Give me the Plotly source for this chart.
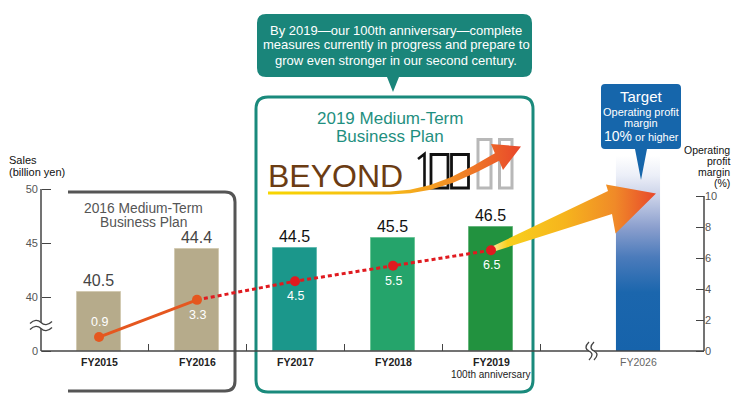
import math
import plotly.graph_objects as go

# ---------------- data ----------------
years = ["FY2015", "FY2016", "FY2017", "FY2018", "FY2019"]
sales = [40.5, 44.4, 44.5, 45.5, 46.5]            # billion yen
margin = [0.9, 3.3, 4.5, 5.5, 6.5]               # operating profit margin, %
margin_label_side = [1, -1, -1, -1, -1]          # 1 = above point, -1 = below
target_year = "FY2026"
target_bar_top = 12.6                            # faded target bar (% axis)
sales_tickvals = [35, 40, 45, 50]
sales_ticktext = ["0", "40", "45", "50"]
margin_tickvals = [0, 2, 4, 6, 8, 10]

# ---------------- styles ----------------
bar_colors = ["#b6ab8b", "#b6ab8b", "#1b978b", "#25a46b", "#22923f"]
bar_edges = ["#d2cab2", "#d2cab2", "#63bbb1", "#6cc597", "#67b67d"]
bar_label_colors = ["#444444", "#444444", "#111111", "#111111", "#111111"]
marker_colors = ["#e5571f", "#e5571f", "#e01a1f", "#e01a1f", "#e01a1f"]
FONT = "Liberation Sans, Arial, sans-serif"
AX = "#444444"

# ---------------- geometry ----------------
W, H = 735, 399
X0PX, XSTEP = 99.0, 98.0
BASEPX = 351.0
SALES_BASE = 35.0
SALES_PXU = 10.8
MARGIN_PXU = 15.5
LEFT_AX_PX, RIGHT_AX_PX = 41.0, 704.0

xr = [(0 - X0PX) / XSTEP, (W - X0PX) / XSTEP]
yr = [SALES_BASE - (H - BASEPX) / SALES_PXU, SALES_BASE + BASEPX / SALES_PXU]
y2r = [-(H - BASEPX) / MARGIN_PXU, BASEPX / MARGIN_PXU]


def dx(px):
    return (px - X0PX) / XSTEP


def dy2(py):
    return (BASEPX - py) / MARGIN_PXU


def P(x, y):
    return f"{x / W:.5f},{1 - y / H:.5f}"


def poly_path(pts, close=True):
    s = "M " + " L ".join(P(x, y) for x, y in pts)
    return s + (" Z" if close else "")


def rr_path(x0, y0, x1, y1, r, pointer=None):
    s = f"M {P(x0 + r, y0)} L {P(x1 - r, y0)} Q {P(x1, y0)} {P(x1, y0 + r)} "
    s += f"L {P(x1, y1 - r)} Q {P(x1, y1)} {P(x1 - r, y1)} "
    if pointer:
        px, hw, ty = pointer
        s += f"L {P(px + hw, y1)} L {P(px, ty)} L {P(px - hw, y1)} "
    s += f"L {P(x0 + r, y1)} Q {P(x0, y1)} {P(x0, y1 - r)} L {P(x0, y0 + r)} Q {P(x0, y0)} {P(x0 + r, y0)} Z"
    return s


fig = go.Figure()
xs = list(range(len(years)))
target_x = len(years) + 0.5
bar_w = 0.45

# sales bars
fig.add_trace(go.Bar(
    x=xs, y=[s - SALES_BASE for s in sales], base=SALES_BASE, width=bar_w,
    marker=dict(color=bar_colors, line=dict(color=bar_edges, width=1)),
    text=[f"{s:.1f}" for s in sales], textposition="outside", constraintext="none",
    textfont=dict(size=16, color=bar_label_colors, family=FONT),
    cliponaxis=False, hoverinfo="skip", yaxis="y"))

# target bar (gradient)
fig.add_trace(go.Scatter(
    x=[target_x - bar_w / 2, target_x + bar_w / 2, target_x + bar_w / 2, target_x - bar_w / 2, target_x - bar_w / 2],
    y=[0, 0, target_bar_top, target_bar_top, 0], mode="lines", line=dict(width=0),
    fill="toself", fillgradient=dict(type="vertical", colorscale=[
        [0, "#1663ab"], [0.3, "#1b66ad"], [0.48, "#4b7bbb"], [0.63, "#8a9ecd"],
        [0.78, "#c6cee6"], [0.9, "#eceff8"], [1, "#ffffff"]]),
    hoverinfo="skip", yaxis="y2"))

# big arrow towards the target
arrow_px = [(491, 247), (608, 191), (606, 184.5), (656, 193.5), (615.5, 233.5), (612, 214), (491, 252.5)]
fig.add_trace(go.Scatter(
    x=[dx(p[0]) for p in arrow_px] + [dx(arrow_px[0][0])],
    y=[dy2(p[1]) for p in arrow_px] + [dy2(arrow_px[0][1])],
    mode="lines", line=dict(width=0), fill="toself",
    fillgradient=dict(type="horizontal", colorscale=[
        [0, "#fbe9a6"], [0.1, "#f8d01c"], [0.45, "#f6b41d"], [0.75, "#f08a28"], [1, "#e8482c"]]),
    hoverinfo="skip", yaxis="y2"))

# logo arrow (BEYOND 100)
center = [(268, 193), (390, 193), (410, 191.5), (430, 187.5), (452, 180), (475, 169), (497, 157)]
half = [1.5, 1.5, 1.8, 2.3, 2.9, 3.6, 4.4]
upper, lower = [], []
for i, (cx, cy) in enumerate(center):
    a = center[max(i - 1, 0)]
    b = center[min(i + 1, len(center) - 1)]
    tx, ty = b[0] - a[0], b[1] - a[1]
    L = math.hypot(tx, ty)
    nx, ny = -ty / L, tx / L
    upper.append((cx - nx * half[i], cy - ny * half[i]))
    lower.append((cx + nx * half[i], cy + ny * half[i]))
head = [(503, 170), (521, 146.5), (491, 144)]
logo_pts = lower + head + upper[::-1]
fig.add_trace(go.Scatter(
    x=[dx(p[0]) for p in logo_pts] + [dx(logo_pts[0][0])],
    y=[dy2(p[1]) for p in logo_pts] + [dy2(logo_pts[0][1])],
    mode="lines", line=dict(width=0), fill="toself",
    fillgradient=dict(type="horizontal", colorscale=[
        [0, "#f7d600"], [0.5, "#f6b81a"], [0.72, "#f28f25"], [1, "#e8462b"]]),
    hoverinfo="skip", yaxis="y2"))

# margin line: solid (results) and dotted (plan)
fig.add_trace(go.Scatter(x=xs[:2], y=margin[:2], mode="lines",
                         line=dict(color="#e5571f", width=3), hoverinfo="skip", yaxis="y2"))
fig.add_trace(go.Scatter(x=xs[1:], y=margin[1:], mode="lines",
                         line=dict(color="#e01a1f", width=3, dash="4px,3px"), hoverinfo="skip", yaxis="y2"))
fig.add_trace(go.Scatter(x=xs, y=margin, mode="markers",
                         marker=dict(color=marker_colors, size=10), hoverinfo="skip", yaxis="y2"))

shapes = []
# boxes (below traces)
shapes.append(dict(type="path", layer="below", line=dict(color="#555555", width=3),
                   path=f"M {P(68, 192)} L {P(225, 192)} Q {P(235, 192)} {P(235, 202)} L {P(235, 381)} "
                        f"Q {P(235, 391)} {P(225, 391)} L {P(68, 391)}",
                   xref="paper", yref="paper"))
shapes.append(dict(type="path", layer="below", line=dict(color="#1a8a7c", width=3),
                   path=rr_path(256, 97, 533, 392, 12), xref="paper", yref="paper"))
# logo glyphs "100" + empty boxes
shapes.append(dict(type="path", layer="below", line=dict(color="#111111", width=2.6),
                   path=poly_path([(418, 159), (424.5, 154), (424.5, 188.5)], close=False),
                   xref="paper", yref="paper"))
for (a, b) in [(431, 448), (451.5, 468.5)]:
    shapes.append(dict(type="path", layer="below", line=dict(color="#111111", width=2.8),
                       path=poly_path([(a, 154.5), (b, 154.5), (b, 188), (a, 188)]),
                       xref="paper", yref="paper"))
for (a, b) in [(478, 491), (499.5, 512)]:
    shapes.append(dict(type="path", layer="below", line=dict(color="#b8b8b8", width=3),
                       path=poly_path([(a, 139.5), (b, 139.5), (b, 188), (a, 188)]),
                       xref="paper", yref="paper"))

# axes lines
shapes.append(dict(type="line", xref="paper", yref="y", x0=LEFT_AX_PX / W, x1=LEFT_AX_PX / W,
                   y0=SALES_BASE, y1=sales_tickvals[-1], line=dict(color=AX, width=1.5)))
shapes.append(dict(type="line", xref="paper", yref="y2", x0=RIGHT_AX_PX / W, x1=RIGHT_AX_PX / W,
                   y0=0, y1=margin_tickvals[-1], line=dict(color=AX, width=1.5)))
shapes.append(dict(type="line", xref="paper", yref="y", x0=LEFT_AX_PX / W, x1=RIGHT_AX_PX / W,
                   y0=SALES_BASE, y1=SALES_BASE, line=dict(color=AX, width=1.5)))

# axis break on the sales axis
top_c = [(30, 323.5), (34, 319.5), (38, 319.5), (41, 322.5), (44, 325.5), (48, 325.5), (52, 321.5)]
bot_c = [(x, y + 6) for x, y in top_c]
shapes.append(dict(type="path", xref="paper", yref="paper", fillcolor="white", line=dict(width=0),
                   path=poly_path(top_c + bot_c[::-1])))
for c in (top_c, bot_c):
    shapes.append(dict(type="path", xref="paper", yref="paper", line=dict(color=AX, width=1.3),
                       path=f"M {P(*c[0])} C {P(*c[1])} {P(*c[2])} {P(*c[3])} C {P(*c[4])} {P(*c[5])} {P(*c[6])}"))
# axis break on the year axis
l_c = [(589, 342), (585, 346), (585, 349), (589, 351), (593, 353), (593, 356), (589, 360)]
r_c = [(x + 5, y) for x, y in l_c]
shapes.append(dict(type="path", xref="paper", yref="paper", fillcolor="white", line=dict(width=0),
                   path=poly_path(l_c + r_c[::-1])))
for c in (l_c, r_c):
    shapes.append(dict(type="path", xref="paper", yref="paper", line=dict(color=AX, width=1.3),
                       path=f"M {P(*c[0])} C {P(*c[1])} {P(*c[2])} {P(*c[3])} C {P(*c[4])} {P(*c[5])} {P(*c[6])}"))

# callouts
shapes.append(dict(type="path", xref="paper", yref="paper", fillcolor="#1a857a", line=dict(width=0),
                   path=rr_path(257, 14, 532, 77, 9, pointer=(393, 6, 92))))
shapes.append(dict(type="path", xref="paper", yref="paper", fillcolor="#1666ab", line=dict(width=0),
                   path=rr_path(601, 84, 681, 149, 4, pointer=(641, 6, 180))))

ann = []


def A(text, x, y, size, color, xanchor="center", xref="paper", bold=False):
    ann.append(dict(text=f"<b>{text}</b>" if bold else text,
                    x=(x / W if xref == "paper" else x), xref=xref,
                    y=1 - y / H, yref="paper", xanchor=xanchor, yanchor="middle",
                    showarrow=False, font=dict(size=size, color=color, family=FONT)))


# category labels
for i, yname in enumerate(years):
    A(yname, i, 362, 10.5, "#222222", xref="x", bold=True)
A("100th anniversary", xs[-1], 374, 10, "#222222", xref="x")
A(target_year, target_x, 362, 10.5, "#666666", xref="x")

# margin value labels
for i, m in enumerate(margin):
    ann.append(dict(text=f"{m}", x=i, y=m, xref="x", yref="y2", showarrow=False,
                    yshift=15 * margin_label_side[i], font=dict(size=12.5, color="white", family=FONT)))

# axis titles
A("Sales", 7, 160, 11, "#111111", xanchor="left")
A("(billion yen)", 7, 172, 11, "#111111", xanchor="left")
for t, yy in [("Operating", 150), ("profit", 161), ("margin", 172), ("(%)", 183)]:
    A(t, 732, yy, 10.5, "#111111", xanchor="right")

# box titles
A("2016 Medium-Term", 143, 208, 13.8, "#555555")
A("Business Plan", 143, 222, 13.8, "#555555")
A("2019 Medium-Term", 390, 118, 17, "#1f8f80")
A("Business Plan", 390, 137, 17, "#1f8f80")
A("BEYOND", 266, 176, 32, "#6b3c13", xanchor="left")

# callout texts
A("By 2019\u2014our 100th anniversary\u2014complete", 396, 30, 13, "white")
A("measures currently in progress and prepare to", 396, 45, 13, "white")
A("grow even stronger in our second century.", 396, 61, 13, "white")
A("Target", 641, 97, 15, "white")
A("Operating profit", 641, 111.5, 11, "white")
A("margin", 641, 123, 11, "white")
A("<span style='font-size:14px'>10%</span> or higher", 641, 136, 11, "white")

fig.update_layout(
    width=W, height=H, autosize=False, margin=dict(l=0, r=0, t=0, b=0, pad=0),
    paper_bgcolor="white", plot_bgcolor="white", showlegend=False,
    font=dict(family=FONT), bargap=0,
    xaxis=dict(range=xr, domain=[0, 1], anchor="free", position=1 - BASEPX / H,
               showgrid=False, zeroline=False, showline=False,
               tickmode="array", tickvals=[i + 0.5 for i in xs], ticktext=[""] * len(xs),
               ticks="inside", ticklen=7, tickwidth=1.3, tickcolor=AX, showticklabels=False,
               fixedrange=True),
    yaxis=dict(range=yr, domain=[0, 1], anchor="free", position=LEFT_AX_PX / W,
               showgrid=False, zeroline=False, showline=False,
               tickmode="array", tickvals=sales_tickvals, ticktext=sales_ticktext,
               ticks="inside", ticklen=9, tickwidth=1.3, tickcolor=AX, ticklabelstandoff=3,
               tickfont=dict(size=11, color="#555555", family=FONT), fixedrange=True),
    yaxis2=dict(range=y2r, overlaying="y", anchor="free", position=RIGHT_AX_PX / W, side="right",
                showgrid=False, zeroline=False, showline=False,
                tickmode="array", tickvals=margin_tickvals,
                ticks="inside", ticklen=8, tickwidth=1.3, tickcolor=AX,
                tickfont=dict(size=11, color="#555555", family=FONT), fixedrange=True),
    shapes=shapes, annotations=ann,
)

fig.write_html("out.html", config={"displayModeBar": False},
               post_script="document.body.style.margin='0';document.body.style.overflow='hidden';")
